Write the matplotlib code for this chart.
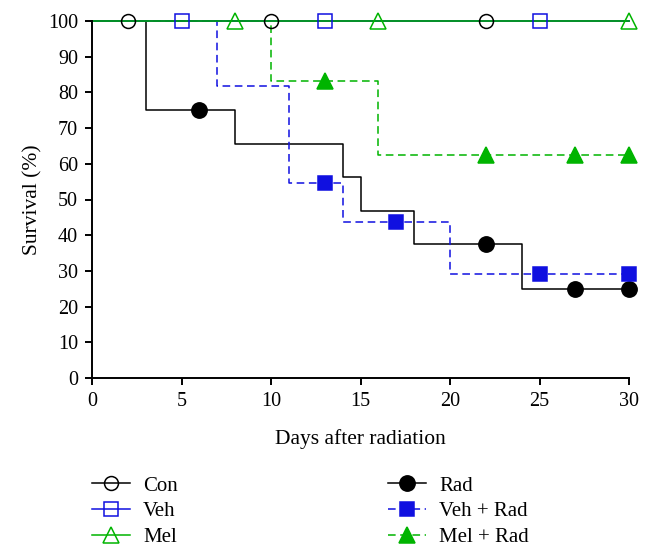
import matplotlib
matplotlib.use("Agg")
import matplotlib.pyplot as plt
from matplotlib.lines import Line2D

plt.rcParams['font.family'] = ['Liberation Serif', 'DejaVu Serif']

# Step curves (time, survival %)
con_t = [0, 30];  con_s = [100, 100]
veh_t = [0, 30];  veh_s = [100, 100]
mel_t = [0, 30];  mel_s = [100, 100]
rad_t = [0, 3, 8, 14, 15, 18, 24, 30]
rad_s = [100, 75, 65.6, 56.25, 46.9, 37.5, 25, 25]
vehrad_t = [0, 7, 11, 14, 20, 30]
vehrad_s = [100, 81.8, 54.5, 43.6, 29.1, 29.1]
melrad_t = [0, 10, 16, 30]
melrad_s = [100, 83.3, 62.5, 62.5]

# Censor marks
con_mx = [2, 10, 22];        con_my = [100, 100, 100]
veh_mx = [5, 13, 25];        veh_my = [100, 100, 100]
mel_mx = [8, 16, 30];        mel_my = [100, 100, 100]
rad_mx = [6, 22, 27, 30];    rad_my = [75, 37.5, 25, 25]
vehrad_mx = [13, 17, 25, 30]; vehrad_my = [54.5, 43.6, 29.1, 29.1]
melrad_mx = [13, 22, 27, 30]; melrad_my = [83.3, 62.5, 62.5, 62.5]

xticks = [0, 5, 10, 15, 20, 25, 30]
yticks = list(range(0, 101, 10))

BLUE = '#1010E0'
GREEN = '#00B400'

fig = plt.figure(figsize=(6.51, 5.56), dpi=100)
ax = fig.add_axes([92/651, 1-378/556, 537/651, 357/556])

dash = (0, (5, 3))
lw = 1.1

# (t, s, marker x, marker y, colour, linestyle, marker, face, label, marker size)
series = [
    (rad_t, rad_s, rad_mx, rad_my, 'black', '-', 'o', 'black', 'Rad', 11),
    (vehrad_t, vehrad_s, vehrad_mx, vehrad_my, BLUE, dash, 's', BLUE, 'Veh + Rad', 10),
    (melrad_t, melrad_s, melrad_mx, melrad_my, GREEN, dash, '^', GREEN, 'Mel + Rad', 12),
    (con_t, con_s, con_mx, con_my, 'black', '-', 'o', 'none', 'Con', 10),
    (veh_t, veh_s, veh_mx, veh_my, BLUE, '-', 's', 'none', 'Veh', 10.5),
    (mel_t, mel_s, mel_mx, mel_my, GREEN, '-', '^', 'none', 'Mel', 11.5),
]
handles = {}
for t, s, mx, my, c, ls, mk, fc, lab, ms in series:
    ax.step(t, s, where='post', color=c, linestyle=ls, lw=lw, clip_on=False, zorder=2)
    ax.plot(mx, my, linestyle='none', marker=mk, markersize=ms,
            markerfacecolor=fc, markeredgecolor=c, markeredgewidth=1.1,
            clip_on=False, zorder=3)
    handles[lab] = Line2D([], [], color=c, linestyle=ls, lw=lw, marker=mk,
                          markersize=ms, markerfacecolor=fc,
                          markeredgecolor=c, markeredgewidth=1.1)

ax.set_xlim(0, 30)
ax.set_ylim(0, 100)
ax.set_xticks(xticks)
ax.set_yticks(yticks)
for sp in ['top', 'right']:
    ax.spines[sp].set_visible(False)
for sp in ['left', 'bottom']:
    ax.spines[sp].set_linewidth(1.4)
ax.tick_params(direction='out', length=5, width=1.4, labelsize=14.5, pad=5)
ax.set_xlabel('Days after radiation', fontsize=15.5, labelpad=13)
ax.set_ylabel('Survival (%)', fontsize=15.5, labelpad=4)

leg_kw = dict(frameon=False, fontsize=15, handlelength=1.8, handletextpad=0.65,
              labelspacing=0.3, borderaxespad=0, borderpad=0)
l1 = fig.legend([handles[k] for k in ['Con', 'Veh', 'Mel']], ['Con', 'Veh', 'Mel'],
                loc='upper left', bbox_to_anchor=(92/651, 1-476/556), **leg_kw)
l2 = fig.legend([handles[k] for k in ['Rad', 'Veh + Rad', 'Mel + Rad']],
                ['Rad', 'Veh + Rad', 'Mel + Rad'],
                loc='upper left', bbox_to_anchor=(388/651, 1-476/556), **leg_kw)

fig.savefig('out.png', dpi=100)
